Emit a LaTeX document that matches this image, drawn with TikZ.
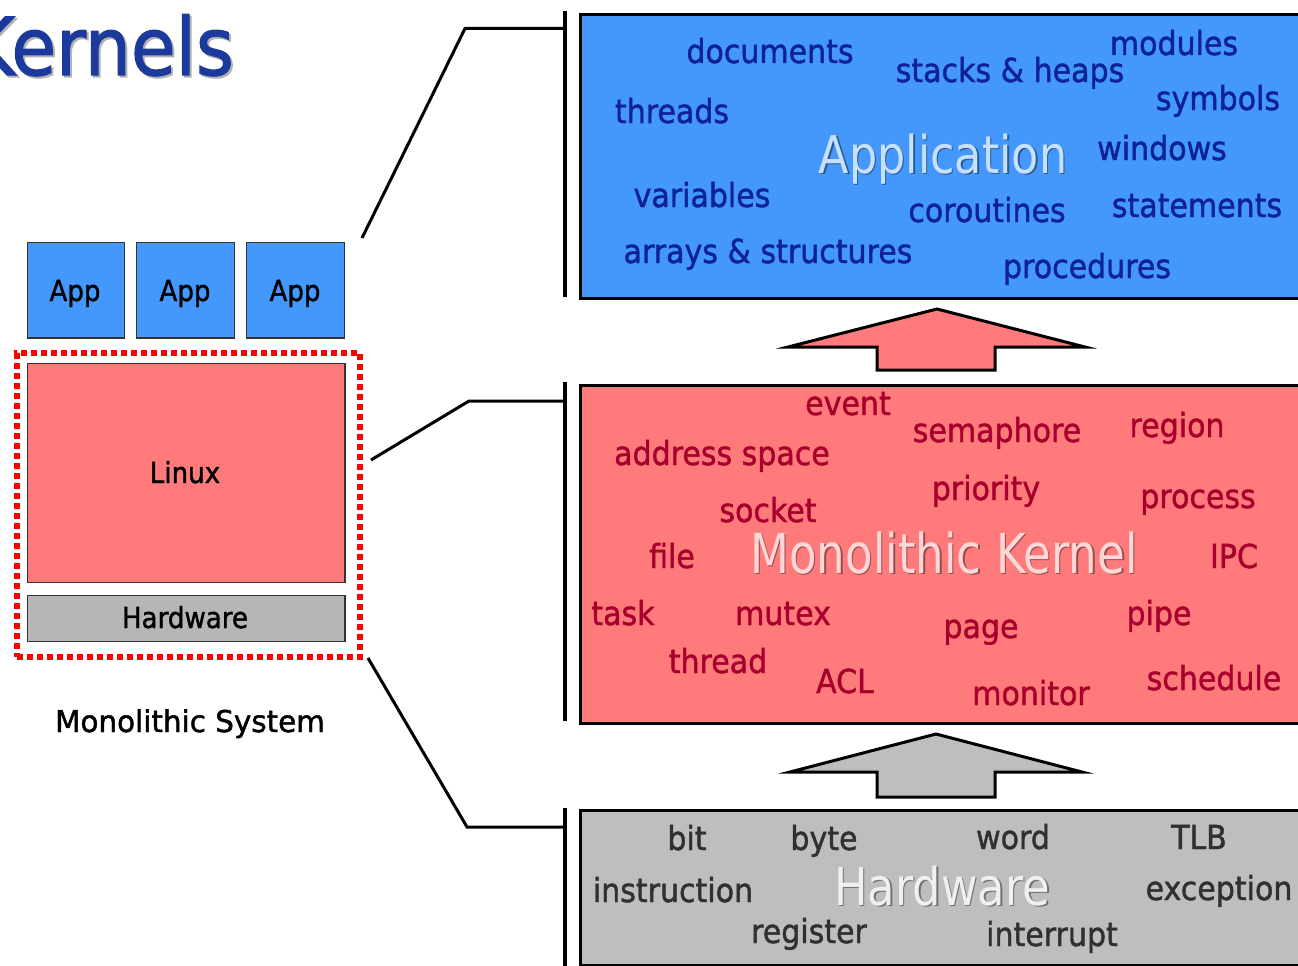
\documentclass[tikz,border=0pt]{standalone}
\usepackage{fontspec}
\setmainfont{DejaVu Sans}
\newfontfamily\wfont{DejaVu Sans}[FakeBold=1.4]
\newfontfamily\tfont{DejaVu Sans}[FakeBold=1.6]
\definecolor{appblue}{RGB}{68,152,252}
\definecolor{kerpink}{RGB}{255,123,123}
\definecolor{hwgray}{RGB}{190,190,190}
\definecolor{hwgraysmall}{RGB}{182,182,182}
\definecolor{appword}{RGB}{14,34,150}
\definecolor{kerword}{RGB}{168,0,44}
\definecolor{hwword}{RGB}{48,48,48}
\definecolor{titleblue}{RGB}{28,58,158}
\newcommand\kwtext[1]{\scalebox{0.91}[1]{#1}}
\newcommand\smtext[1]{\scalebox{0.9}[1]{#1}}
\begin{document}
\begin{tikzpicture}[x=1pt,y=-1pt,
  bigbox/.style={draw=black, line width=3pt, anchor=north west, inner sep=0pt},
  smallbox/.style={draw=black!80, line width=1.8pt, anchor=north west, inner sep=0pt},
  word/.style={anchor=base, inner sep=0pt, font=\wfont\fontsize{33}{40}\selectfont},
  appw/.style={word, text=appword},
  kerw/.style={word, text=kerword},
  hww/.style={word, text=hwword},
  smlabel/.style={anchor=base, inner sep=0pt, text=black, font=\wfont\fontsize{29}{34}\selectfont},
  conn/.style={line width=3pt, black, line join=miter},
  barline/.style={line width=4pt, black},
  bigarrow/.style={draw=black, line width=3pt, line join=miter},
  mark shadow/.style={anchor=base, inner sep=0pt},
]
\useasboundingbox (0,0) rectangle (1298,966);
\fill[white] (0,0) rectangle (1298,966);

% title
\node[anchor=base west, inner sep=0pt, text=black!30] at (-31,77) {\tfont\fontsize{80}{90}\selectfont\scalebox{0.91}[1]{Kernels}};
\node[anchor=base west, inner sep=0pt, text=titleblue] (title) at (-33,75) {\tfont\fontsize{80}{90}\selectfont\scalebox{0.91}[1]{Kernels}};

% left: monolithic system
\node[smallbox, fill=appblue, minimum width=97pt, minimum height=95.5pt] (app1) at (26.5,241.5) {};
\node[smallbox, fill=appblue, minimum width=98pt, minimum height=95.5pt] (app2) at (135.5,241.5) {};
\node[smallbox, fill=appblue, minimum width=98pt, minimum height=95.5pt] (app3) at (245.5,241.5) {};
\node[smallbox, fill=kerpink, minimum width=317.5pt, minimum height=219pt] (linux) at (26.5,362.5) {};
\node[smallbox, fill=hwgraysmall, minimum width=317.5pt, minimum height=46pt] (hwsmall) at (26.5,594.5) {};
\node[anchor=north west, inner sep=0pt, draw=red, line width=6pt, dash pattern=on 6pt off 4pt,
      minimum width=343pt, minimum height=304pt] (mono) at (13.5,350) {};

\node[smlabel] (lapp1) at (75,301) {\smtext{App}};
\node[smlabel] (lapp2) at (185,301) {\smtext{App}};
\node[smlabel] (lapp3) at (295,301) {\smtext{App}};
\node[smlabel] (llinux) at (185,483) {\smtext{Linux}};
\node[smlabel] (lhw) at (185,628) {\smtext{Hardware}};
\node[anchor=base, inner sep=0pt, font=\wfont\fontsize{30}{36}\selectfont] (monosys) at (190,732) {\scalebox{0.98}[1]{Monolithic System}};

% right boxes
\node[bigbox, fill=appblue, minimum width=745pt, minimum height=283pt] (appbox) at (578.5,13.5) {};
\node[bigbox, fill=kerpink, minimum width=745pt, minimum height=338pt] (kerbox) at (578.5,383.5) {};
\node[bigbox, fill=hwgray, minimum width=745pt, minimum height=155pt] (hwbox) at (578.5,808.5) {};

% brackets and connectors
\coordinate (b1t) at (565,11);  \coordinate (b1b) at (565,297);
\coordinate (b2t) at (565,382); \coordinate (b2b) at (565,721);
\coordinate (b3t) at (565,808); \coordinate (b3b) at (565,970);
\draw[barline] (b1t) -- (b1b);
\draw[barline] (b2t) -- (b2b);
\draw[barline] (b3t) -- (b3b);
\coordinate (c1s) at (362,238); \coordinate (c1k) at (465,28.5); \coordinate (c1e) at (565,28.5);
\coordinate (c2s) at (371,460); \coordinate (c2k) at (469,401); \coordinate (c2e) at (565,401);
\coordinate (c3s) at (368,658); \coordinate (c3k) at (467,827); \coordinate (c3e) at (565,827);
\draw[conn] (c1s) -- (c1k) -- (c1e);
\draw[conn] (c2s) -- (c2k) -- (c2e);
\draw[conn] (c3s) -- (c3k) -- (c3e);

% block arrows
\draw[bigarrow, fill=kerpink] (937,309) -- (1085,347) -- (995,347) -- (995,370) -- (877,370) -- (877,347) -- (788,347) -- cycle;
\draw[bigarrow, fill=hwgray] (936,734) -- (1082,772) -- (995,772) -- (995,797) -- (877,797) -- (877,772) -- (790,772) -- cycle;

% watermarks
\node[mark shadow, text=appblue!60!black] at (944.5,174.5) {\fontsize{52}{60}\selectfont\scalebox{0.855}[1]{Application}};
\node[mark shadow, text=appblue!30!white] (wmapp) at (943,173) {\fontsize{52}{60}\selectfont\scalebox{0.855}[1]{Application}};
\node[mark shadow, text=kerpink!60!black] at (945.5,574.5) {\fontsize{55}{62}\selectfont\scalebox{0.82}[1]{Monolithic Kernel}};
\node[mark shadow, text=kerpink!30!white] (wmker) at (944,573) {\fontsize{55}{62}\selectfont\scalebox{0.82}[1]{Monolithic Kernel}};
\node[mark shadow, text=hwgray!60!black] at (943.5,906.5) {\fontsize{52}{60}\selectfont\scalebox{0.86}[1]{Hardware}};
\node[mark shadow, text=white!94!black] (wmhw) at (942,905) {\fontsize{52}{60}\selectfont\scalebox{0.86}[1]{Hardware}};

% application words
\node[appw] (documents) at (770,63) {\kwtext{documents}};
\node[appw] (stacks) at (1010,82) {\kwtext{stacks \& heaps}};
\node[appw] (modules) at (1174,55) {\kwtext{modules}};
\node[appw] (threads) at (672,123) {\kwtext{threads}};
\node[appw] (symbols) at (1218,110) {\kwtext{symbols}};
\node[appw] (windows) at (1162,160) {\kwtext{windows}};
\node[appw] (variables) at (702,207) {\kwtext{variables}};
\node[appw] (coroutines) at (987,222) {\kwtext{coroutines}};
\node[appw] (statements) at (1197,217) {\kwtext{statements}};
\node[appw] (arrays) at (768,263) {\kwtext{arrays \& structures}};
\node[appw] (procedures) at (1087,278) {\kwtext{procedures}};

% kernel words
\node[kerw] (event) at (848,415) {\kwtext{event}};
\node[kerw] (semaphore) at (997,442) {\kwtext{semaphore}};
\node[kerw] (region) at (1177,437) {\kwtext{region}};
\node[kerw] (addrspace) at (722,465) {\kwtext{address space}};
\node[kerw] (socket) at (768,522) {\kwtext{socket}};
\node[kerw] (priority) at (986,500) {\kwtext{priority}};
\node[kerw] (process) at (1198,508) {\kwtext{process}};
\node[kerw] (file) at (672,568) {\kwtext{file}};
\node[kerw] (ipc) at (1234,568) {\kwtext{IPC}};
\node[kerw] (task) at (623,625) {\kwtext{task}};
\node[kerw] (mutex) at (783,625) {\kwtext{mutex}};
\node[kerw] (page) at (981,638) {\kwtext{page}};
\node[kerw] (pipe) at (1159,625) {\kwtext{pipe}};
\node[kerw] (thread) at (718,673) {\kwtext{thread}};
\node[kerw] (acl) at (845,693) {\kwtext{ACL}};
\node[kerw] (monitor) at (1031,705) {\kwtext{monitor}};
\node[kerw] (schedule) at (1214,690) {\kwtext{schedule}};

% hardware words
\node[hww] (bit) at (687,850) {\kwtext{bit}};
\node[hww] (byte) at (824,850) {\kwtext{byte}};
\node[hww] (word) at (1013,849) {\kwtext{word}};
\node[hww] (tlb) at (1199,849) {\kwtext{TLB}};
\node[hww] (instruction) at (673,902) {\kwtext{instruction}};
\node[hww] (exception) at (1219,900) {\kwtext{exception}};
\node[hww] (register) at (809,943) {\kwtext{register}};
\node[hww] (interrupt) at (1052,946) {\kwtext{interrupt}};
\end{tikzpicture}
\end{document}
